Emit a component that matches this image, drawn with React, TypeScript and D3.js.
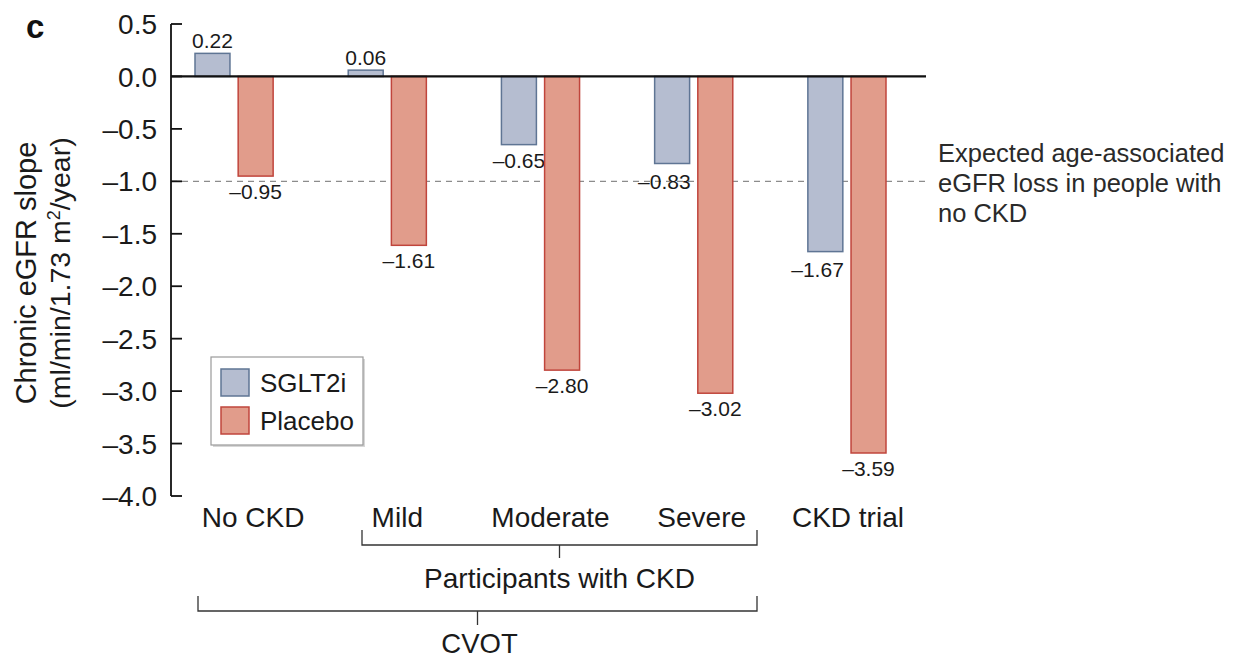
import React from "react";
import * as d3 from "d3";

// Chronic eGFR slope by subgroup (ml/min/1.73 m²/year)
const categories = ["No CKD", "Mild", "Moderate", "Severe", "CKD trial"];
const series = ["SGLT2i", "Placebo"];
const sglt2iValues = [0.22, 0.06, -0.65, -0.83, -1.67];
const placeboValues = [-0.95, -1.61, -2.8, -3.02, -3.59];
const yTicks = [0.5, 0.0, -0.5, -1.0, -1.5, -2.0, -2.5, -3.0, -3.5, -4.0];
const referenceSlope = -1.0;
const referenceLabel = ["Expected age-associated", "eGFR loss in people with", "no CKD"];

const W = 1235;
const H = 659;
const FONT = "'Liberation Sans', Arial, Helvetica, sans-serif";
const TEXT = "#1a1a1a";

const fills: Record<string, string> = { SGLT2i: "#b5bdd0", Placebo: "#e19c8b" };
const strokes: Record<string, string> = { SGLT2i: "#5f7594", Placebo: "#c0453c" };

const fmt = (v: number) => (v < 0 ? "\u2013" : "") + Math.abs(v).toFixed(2);
const fmtTick = (v: number) => (v < 0 ? "\u2013" : "") + Math.abs(v).toFixed(1);

export default function App() {
  const axisX = 171;
  const y = d3.scaleLinear().domain([-4, 0.5]).range([496, 24]);
  const x = d3.scaleBand<string>().domain(categories).range([195, 886]).paddingInner(0.49).paddingOuter(0);
  const xs = d3.scaleBand<string>().domain(series).range([0, x.bandwidth()]).paddingInner(0.19).paddingOuter(0);

  const rows = categories.map((c, i) => ({ c, values: [sglt2iValues[i], placeboValues[i]] }));
  const labelShift = [19, 10, 10, 8, 1];
  // value labels of the last two SGLT2i bars sit flush with the bar's right edge
  const rightAligned = (i: number, j: number) => j === 0 && i >= 3;

  const y0 = y(0);
  const zeroEnd = 926;

  const mid = (c: string) => (x(c) ?? 0) + x.bandwidth() / 2;
  const xLeftCKD = 362;
  const xRightCKD = 757;
  const xLeftCVOT = 198;

  return (
    <svg width={W} height={H} style={{ position: "absolute", left: 0, top: 0, background: "#fff" }} fontFamily={FONT}>
      {/* panel letter */}
      <text x={26} y={38} fontSize={33} fontWeight="bold" fill="#111">c</text>

      {/* y-axis title */}
      <g transform={`translate(36, 273) rotate(-90)`}>
        <text textAnchor="middle" fontSize={29} fill={TEXT}>Chronic eGFR slope</text>
        <text textAnchor="middle" y={34} fontSize={28.5} fill={TEXT}>
          (ml/min/1.73 m<tspan dy={-10} fontSize={18}>2</tspan><tspan dy={10}>/year)</tspan>
        </text>
      </g>

      {/* reference line */}
      <line x1={axisX} x2={928} y1={y(referenceSlope)} y2={y(referenceSlope)} stroke="#8c8c8c" strokeWidth={1.2} strokeDasharray="6,5" />
      {referenceLabel.map((t, i) => (
        <text key={t} x={938} y={y(referenceSlope) - 19 + i * 30} fontSize={25.5} fill="#2a2a2a">{t}</text>
      ))}

      {/* bars */}
      {rows.map((r, i) => (
        <g key={r.c} transform={`translate(${x(r.c)},0)`}>
          {r.values.map((v, j) => {
            const s = series[j];
            const top = Math.min(y(v), y0);
            const h = Math.abs(y(v) - y0);
            const bx = xs(s) ?? 0;
            const alignEnd = rightAligned(i, j);
            return (
              <g key={s}>
                <rect x={bx} y={top} width={xs.bandwidth()} height={h} fill={fills[s]} stroke={strokes[s]} strokeWidth={1.5} />
                <text
                  x={alignEnd ? bx + xs.bandwidth() + 1 : bx + xs.bandwidth() / 2}
                  y={v >= 0 ? y(v) - 5 : y(v) + (alignEnd ? 25 : 23)}
                  textAnchor={alignEnd ? "end" : "middle"}
                  fontSize={21}
                  fill={TEXT}
                >
                  {fmt(v)}
                </text>
              </g>
            );
          })}
        </g>
      ))}

      {/* zero line */}
      <line x1={axisX} x2={zeroEnd} y1={y0} y2={y0} stroke="#111" strokeWidth={2.2} />

      {/* y axis */}
      <line x1={axisX} x2={axisX} y1={y(0.5)} y2={y(-4)} stroke="#111" strokeWidth={1.8} />
      {yTicks.map((t) => (
        <g key={t}>
          <line x1={axisX} x2={axisX + 11} y1={y(t)} y2={y(t)} stroke="#111" strokeWidth={1.8} />
          <text x={157} y={y(t)} dy="0.36em" textAnchor="end" fontSize={28} fill={TEXT}>{fmtTick(t)}</text>
        </g>
      ))}

      {/* category labels */}
      {categories.map((c, i) => (
        <text key={c} x={mid(c) + labelShift[i]} y={527} textAnchor="middle" fontSize={28} fill={TEXT}>{c}</text>
      ))}

      {/* brackets */}
      <path d={`M${xLeftCKD},530V545H${xRightCKD}V530`} fill="none" stroke="#333" strokeWidth={1.3} />
      <line x1={(xLeftCKD + xRightCKD) / 2} x2={(xLeftCKD + xRightCKD) / 2} y1={545} y2={558} stroke="#333" strokeWidth={1.3} />
      <text x={(xLeftCKD + xRightCKD) / 2} y={588} textAnchor="middle" fontSize={28} fill={TEXT}>Participants with CKD</text>

      <path d={`M${xLeftCVOT},596V611H${xRightCKD}V596`} fill="none" stroke="#333" strokeWidth={1.3} />
      <line x1={(xLeftCVOT + xRightCKD) / 2} x2={(xLeftCVOT + xRightCKD) / 2} y1={611} y2={625} stroke="#333" strokeWidth={1.3} />
      <text x={(xLeftCVOT + xRightCKD) / 2 + 2} y={653} textAnchor="middle" fontSize={27.5} fill={TEXT}>CVOT</text>

      {/* legend */}
      <g transform="translate(211,357)">
        <rect x={2} y={2} width={152} height={88} fill="#bdbdbd" opacity={0.6} />
        <rect x={0} y={0} width={152} height={88} fill="#fff" stroke="#9a9a9a" strokeWidth={1.2} />
        {series.map((s, i) => (
          <g key={s} transform={`translate(10, ${12 + i * 38})`}>
            <rect width={28} height={27} fill={fills[s]} stroke={strokes[s]} strokeWidth={1.5} />
            <text x={39} y={14} dy="0.36em" fontSize={26} fill={TEXT}>{s}</text>
          </g>
        ))}
      </g>
    </svg>
  );
}
